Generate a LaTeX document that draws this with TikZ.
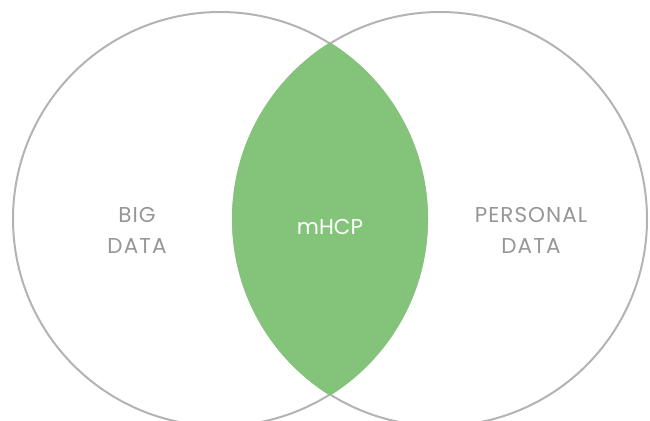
\documentclass[tikz,border=0pt]{standalone}
\usepackage{fontspec}
\setmainfont{Poppins}
\newfontfamily\spaced[LetterSpace=5]{Poppins}
\definecolor{ringgray}{HTML}{B3B3B3}
\definecolor{textgray}{HTML}{969696}
\definecolor{lensgreen}{HTML}{84C47A}
\tikzset{label/.style={text=textgray,font=\spaced\fontsize{21.5}{31}\selectfont,align=center,inner sep=0pt}}

\begin{document}
\begin{tikzpicture}[x=1pt,y=-1pt]
        \useasboundingbox (0,0) rectangle (650,420);%
        \draw[ringgray,line width=2pt] (220,219) circle[radius=207pt];%
        \draw[ringgray,line width=2pt] (440,219) circle[radius=207pt];%
        \begin{scope}
          \clip (220,219) circle[radius=208pt];%
          \fill[lensgreen] (440,219) circle[radius=208pt];%
        \end{scope}
        \node[label] (big) at (137,230) {BIG\\DATA};%
        \node[label,text=white,font=\fontsize{21.5}{31}\selectfont] (mhcp) at (330,226.5) {mHCP};%
        \node[label] (personal) at (531,230) {PERSONAL\\DATA};%
      \end{tikzpicture}
\end{document}
